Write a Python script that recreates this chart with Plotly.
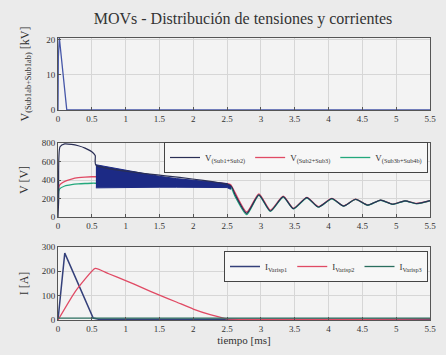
import plotly.graph_objects as go

# ---------------- data ----------------
x_ticks = [0, 0.5, 1, 1.5, 2, 2.5, 3, 3.5, 4, 4.5, 5, 5.5]
x_tick_labels = ["0", "0.5", "1", "1.5", "2", "2.5", "3", "3.5", "4", "4.5", "5", "5.5"]

# panel 1 (kV)
t_kv = [0, 0.005, 0.02, 0.13, 5.5]
v_kv = [0, 15, 20.5, 0, 0]

# panel 2 (V)
t_blue_pre = [0, 0.01, 0.03, 0.1, 0.2, 0.3, 0.4, 0.5, 0.55, 0.56]
v_blue_pre = [0, 180, 760, 790, 785, 770, 745, 705, 665, 560]
t_band = [0.56, 0.75, 1.0, 1.25, 1.5, 1.75, 2.0, 2.25, 2.5, 2.55]
v_band_hi = [565, 540, 505, 470, 440, 415, 395, 378, 362, 340]
v_band_lo = [315, 318, 320, 322, 322, 322, 322, 322, 318, 300]

t_red_pre = [0, 0.02, 0.1, 0.2, 0.3, 0.4, 0.5, 0.55, 1.0, 1.5, 2.0, 2.5]
v_red_pre = [100, 340, 385, 410, 425, 432, 435, 435, 420, 400, 385, 360]
t_green_pre = [0, 0.02, 0.1, 0.2, 0.3, 0.4, 0.5, 0.55, 1.0, 1.5, 2.0, 2.5]
v_green_pre = [100, 300, 335, 350, 358, 362, 365, 365, 350, 340, 335, 330]

t_osc = [2.55, 2.62, 2.79, 2.97, 3.14, 3.33, 3.48, 3.68, 3.85, 4.05, 4.22, 4.4, 4.58, 4.77, 4.95, 5.13, 5.3, 5.5]
v_osc_blue = [340, 240, 40, 240, 65, 220, 90, 210, 108, 200, 118, 192, 128, 183, 138, 175, 145, 178]
v_osc_red = [350, 260, 55, 250, 75, 225, 95, 212, 112, 200, 122, 192, 130, 183, 140, 175, 147, 176]
v_osc_green = [330, 220, 25, 235, 60, 215, 88, 205, 106, 196, 117, 190, 127, 181, 137, 173, 144, 175]

# panel 3 (A)
t_i1 = [0, 0.1, 0.52, 0.6, 5.5]
i_1 = [0, 275, 8, 3, 3]
t_i2 = [0, 0.25, 0.55, 0.75, 1.0, 1.25, 1.5, 1.75, 2.0, 2.25, 2.5, 5.5]
i_2 = [0, 115, 212, 190, 162, 132, 102, 74, 45, 22, 5, 5]
t_i3 = [0, 5.5]
i_3 = [8, 8]

legend_v = ["V<sub>(Sub1+Sub2)</sub>", "V<sub>(Sub2+Sub3)</sub>", "V<sub>(Sub3b+Sub4b)</sub>"]
legend_i = ["I<sub>Varisp1</sub>", "I<sub>Varisp2</sub>", "I<sub>Varisp3</sub>"]

RED = "#e04a64"
GREEN = "#23a87c"

fig = go.Figure()

# panel 1
fig.add_trace(go.Scatter(x=t_kv, y=v_kv, mode="lines", line=dict(color="#4556a8", width=1.3),
                         showlegend=False, xaxis="x", yaxis="y"))

# panel 2
fig.add_trace(go.Scatter(x=t_red_pre + t_osc, y=v_red_pre + v_osc_red, mode="lines",
                         line=dict(color=RED, width=1.3, shape="spline", smoothing=0.6),
                         name=legend_v[1], legend="legend", legendrank=2, xaxis="x2", yaxis="y2"))
fig.add_trace(go.Scatter(x=t_green_pre + t_osc, y=v_green_pre + v_osc_green, mode="lines",
                         line=dict(color=GREEN, width=1.3, shape="spline", smoothing=0.6),
                         name=legend_v[2], legend="legend", legendrank=3, xaxis="x2", yaxis="y2"))
fig.add_trace(go.Scatter(x=t_band + t_band[::-1], y=v_band_hi + v_band_lo[::-1], mode="lines",
                         fill="toself", fillcolor="#1c2a85", line=dict(color="#1c2a85", width=1),
                         showlegend=False, xaxis="x2", yaxis="y2"))
fig.add_trace(go.Scatter(x=t_blue_pre + t_osc, y=v_blue_pre + v_osc_blue, mode="lines",
                         line=dict(color="#2a2f55", width=1.2, shape="spline", smoothing=0.6),
                         name=legend_v[0], legend="legend", legendrank=1, xaxis="x2", yaxis="y2"))

# panel 3
fig.add_trace(go.Scatter(x=t_i1, y=i_1, mode="lines", line=dict(color="#34407a", width=1.5),
                         name=legend_i[0], legend="legend2", xaxis="x3", yaxis="y3"))
fig.add_trace(go.Scatter(x=t_i2, y=i_2, mode="lines",
                         line=dict(color=RED, width=1.3, shape="spline", smoothing=0.4),
                         name=legend_i[1], legend="legend2", xaxis="x3", yaxis="y3"))
fig.add_trace(go.Scatter(x=t_i3, y=i_3, mode="lines", line=dict(color="#2a6e5e", width=1.3),
                         name=legend_i[2], legend="legend2", xaxis="x3", yaxis="y3"))

FONT = "Liberation Serif"
xdom = [58 / 446, 430 / 446]


def xax(anchor):
    return dict(domain=xdom, range=[0, 5.5], tickvals=x_ticks, ticktext=x_tick_labels,
                anchor=anchor, showline=True, mirror=True, linecolor="#555", linewidth=1,
                ticks="inside", ticklen=3, tickcolor="#555", showgrid=True, gridcolor="#d6d6d6",
                zeroline=False, automargin=False,
                tickfont=dict(family=FONT, size=9, color="#333"))


def yax(anchor, dom, rng, tv, title, standoff):
    return dict(domain=dom, range=rng, tickvals=tv, anchor=anchor, showline=True, mirror=True,
                linecolor="#555", linewidth=1, ticks="inside", ticklen=3, tickcolor="#555",
                showgrid=True, gridcolor="#d6d6d6", zeroline=False, automargin=False,
                tickfont=dict(family=FONT, size=9, color="#333"),
                title=dict(text=title, font=dict(family=FONT, size=12, color="#333"),
                           standoff=standoff))


fig.update_layout(
    width=446, height=355,
    margin=dict(l=0, r=0, t=0, b=0, autoexpand=False),
    paper_bgcolor="#ebebeb", plot_bgcolor="#f3f3f3",
    title=dict(text="MOVs - Distribución de tensiones y corrientes", x=243 / 446, xanchor="center",
               y=1 - 18 / 355, yanchor="middle", font=dict(family=FONT, size=16, color="#333")),
    xaxis=xax("y"),
    yaxis=yax("x", [1 - 110 / 355, 1 - 38 / 355], [0, 20.5], [0, 10, 20],
              "V<sub>(Sub1ab+Sub1ab)</sub> [kV]", 14),
    xaxis2=xax("y2"),
    yaxis2=yax("x2", [1 - 217 / 355, 1 - 143 / 355], [0, 800], [0, 200, 400, 600, 800], "V [V]", 10),
    xaxis3=dict(xax("y3"), title=dict(text="tiempo [ms]", font=dict(family=FONT, size=11, color="#333"),
                                      standoff=2)),
    yaxis3=yax("x3", [1 - 320 / 355, 1 - 247 / 355], [0, 300], [0, 100, 200, 300], "I [A]", 10),
    legend=dict(orientation="h", x=428 / 446, xanchor="right", y=1 - 142 / 355, yanchor="top",
                bgcolor="#f7f7f7", bordercolor="#444", borderwidth=1,
                font=dict(family=FONT, size=9, color="#333"), traceorder="normal",
                itemwidth=30, tracegroupgap=0),
    legend2=dict(orientation="h", x=428 / 446, xanchor="right", y=1 - 251 / 355, yanchor="top",
                 bgcolor="#f7f7f7", bordercolor="#444", borderwidth=1,
                 font=dict(family=FONT, size=9, color="#333"), itemwidth=30),
)

fig.write_html("out.html", config={"displayModeBar": False},
               post_script="document.body.style.margin='0';document.body.style.overflow='hidden';")
